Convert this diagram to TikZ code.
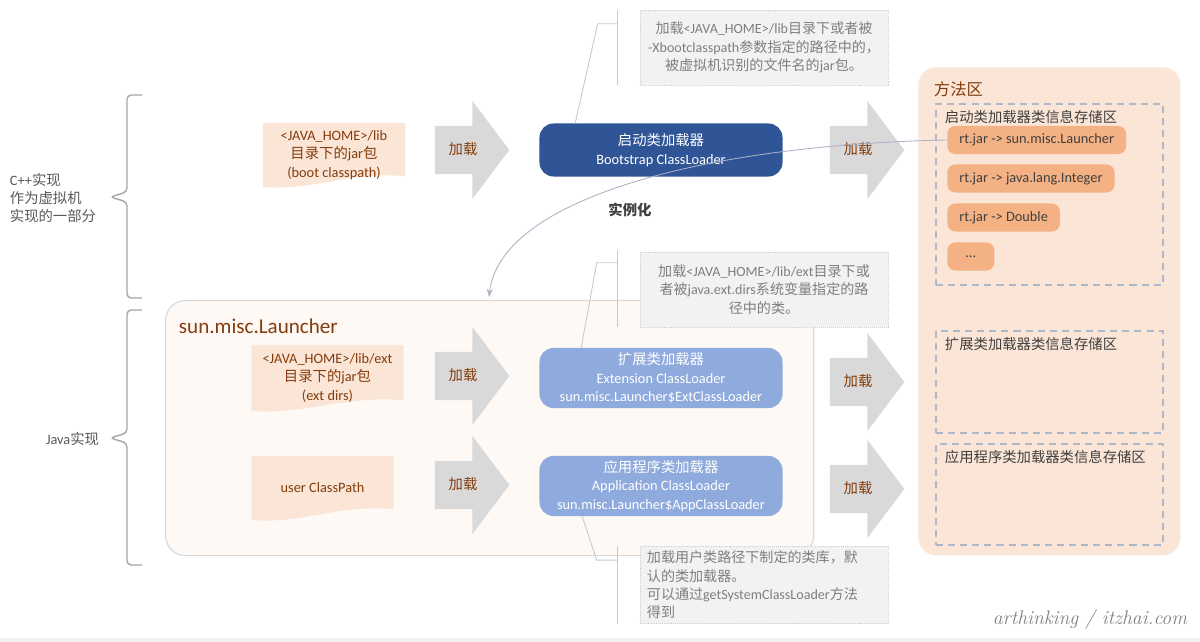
\documentclass[tikz,border=0pt]{standalone}
\usepackage{fontspec}
\usepackage{xcolor}
\usetikzlibrary{shapes.arrows, arrows.meta, positioning}
\setmainfont{Carlito}
\newfontfamily\cjkfont{Noto Sans CJK SC}
\newfontfamily\latinfont{Carlito}
\newfontfamily\markfont{Latin Modern Roman}
\XeTeXinterchartokenstate=1
\newXeTeXintercharclass\cjkclass
\newcommand\setcjkrange[2]{%
  \count255=#1
  \loop
    \XeTeXcharclass\count255=\cjkclass
  \ifnum\count255<#2 \advance\count255 by 1 \repeat}
\setcjkrange{"3000}{"303F}
\setcjkrange{"4E00}{"9FFF}
\setcjkrange{"FF00}{"FFEF}
\XeTeXinterchartoks 0 \cjkclass = {\cjkfont}
\XeTeXinterchartoks 4095 \cjkclass = {\cjkfont}
\XeTeXinterchartoks \cjkclass 0 = {\latinfont}
\XeTeXinterchartoks \cjkclass 4095 = {\latinfont}
\definecolor{loadbrown}{HTML}{843C0C}
\definecolor{bootblue}{HTML}{2F5597}
\definecolor{lightblue}{HTML}{8FAADC}
\definecolor{peach}{HTML}{FBE5D6}
\definecolor{itemorange}{HTML}{F4B183}
\definecolor{notegray}{HTML}{F2F2F2}
\definecolor{notedot}{HTML}{CFCFCF}
\definecolor{notetext}{HTML}{7F7F7F}
\definecolor{arrowgray}{HTML}{D9D9D9}
\definecolor{darktext}{HTML}{404040}
\definecolor{bracetext}{HTML}{595959}
\definecolor{dashblue}{HTML}{ADB9CA}
\definecolor{curveblue}{HTML}{A9B3C4}
\definecolor{linegray}{HTML}{C8C8C8}
\definecolor{bracegray}{HTML}{A6A6A6}
\definecolor{launcherfill}{HTML}{FEF9F4}

\begin{document}
\begin{tikzpicture}[x=0.025cm, y=-0.025cm, >=Stealth,
  every node/.style={font=\fontsize{10.2}{13}\selectfont},
  loader/.style={rectangle, rounded corners=0.35cm, fill=#1, text=white, minimum width=6.075cm, align=center, inner sep=1pt},
  loader/.default=lightblue,
  srcdoc/.style={rectangle, text=loadbrown, align=center, minimum width=3.6cm, minimum height=1.6cm, inner sep=1pt,
    path picture={\fill[peach] (path picture bounding box.north west) -- (path picture bounding box.north east)
      -- ([yshift=0.27cm]path picture bounding box.south east)
      .. controls ([xshift=-1.4cm,yshift=0.4cm]path picture bounding box.south east) and ([xshift=1.3cm,yshift=-0.1cm]path picture bounding box.south west)
      .. (path picture bounding box.south west) -- cycle;}},
  loadarrow/.style={single arrow, fill=arrowgray, text=loadbrown, minimum height=1.86cm, single arrow head extend=0.625cm,
    single arrow tip angle=106, inner ysep=12pt, inner xsep=2pt, text height=8pt, text depth=2pt},
  note/.style={rectangle, fill=notegray, draw=notedot, densely dotted, text=notetext, minimum width=6.2cm, minimum height=1.875cm,
    inner xsep=1pt, align=center, font=\fontsize{10}{13}\selectfont},
  callout/.style={draw=linegray, line width=0.6pt},
  area/.style={rectangle, draw=dashblue, line width=1.4pt, dash pattern=on 5pt off 3.6pt, minimum width=5.675cm, anchor=north west},
  arealabel/.style={anchor=west, text=darktext},
  item/.style={rectangle, rounded corners=0.2cm, fill=itemorange, text=darktext, minimum height=0.7cm, inner xsep=0.3cm, anchor=west},
  bracegroup/.style={draw=bracegray, line width=1pt, rounded corners=3pt}]
  \fill[white] (0,0) rectangle (1200,642);
  \useasboundingbox (0,0) rectangle (1200,642);
  \fill[black!6] (0,638) rectangle (1200,642);

  \draw[bracegroup] (142,95) -- (127,95) -- (127,192) -- (110,197) -- (127,202) -- (127,298) -- (142,298);
  \draw[bracegroup] (142,310) -- (127,310) -- (127,433) -- (110,438) -- (127,443) -- (127,565) -- (142,565);
  \node[anchor=west, align=left, text=bracetext] (cpplabel) at (5,198) {C++实现\\作为虚拟机\\实现的一部分};
  \node[anchor=east, text=bracetext] (javalabel) at (104,439) {Java实现};

  \node[anchor=north west, rectangle, rounded corners=0.5cm, fill=launcherfill, draw=arrowgray, line width=0.8pt,
    minimum width=16.2cm, minimum height=6.375cm] (launcher) at (165,300) {};
  \node[anchor=west, font=\fontsize{15}{18}\selectfont, text=loadbrown] (launchername) at (174,326) {sun.misc.Launcher};

  \node[anchor=north west, rectangle, rounded corners=0.45cm, fill=peach, minimum width=6.55cm, minimum height=12.2cm] (methodarea) at (918,67) {};
  \node[anchor=west, font=\fontsize{11.6}{14}\selectfont, text=loadbrown] (methodname) at (929,89) {方法区};
  \node[area, minimum height=4.525cm] (bootarea) at (935,103) {};
  \node[arealabel] (bootarealabel) at (940,117) {启动类加载器类信息存储区};
  \node[area, minimum height=2.55cm] (extarea) at (935,330) {};
  \node[arealabel] (extarealabel) at (940,344) {扩展类加载器类信息存储区};
  \node[area, minimum height=2.525cm] (apparea) at (935,443) {};
  \node[arealabel] (apparealabel) at (940,457) {应用程序类加载器类信息存储区};
  \node[item] (rtlauncher) at (947,140) {rt.jar -> sun.misc.Launcher};
  \node[item] (rtinteger) at (947,178.5) {rt.jar -> java.lang.Integer};
  \node[item] (rtdouble) at (947,217.5) {rt.jar -> Double};
  \node[item, minimum width=1.175cm] (rtmore) at (947,256.5) {...};

  \node[srcdoc, minimum width=3.55cm] (bootsrc) at (334,155) {<JAVA\_HOME>/lib\\目录下的jar包\\(boot classpath)};
  \node[srcdoc, minimum width=3.8cm, minimum height=1.65cm] (extsrc) at (327.5,378) {<JAVA\_HOME>/lib/ext\\目录下的jar包\\(ext dirs)};
  \node[srcdoc, minimum width=3.55cm] (usersrc) at (322.5,488) {user ClassPath};

  \node[loadarrow] (load1) at (463,150) {加载};
  \node[loadarrow] (load2) at (858,150) {加载};
  \node[loadarrow] (load3) at (463,376) {加载};
  \node[loadarrow] (load4) at (463,485) {加载};
  \node[loadarrow] (load5) at (858,382) {加载};
  \node[loadarrow] (load6) at (858,489) {加载};

  \node[loader=bootblue, minimum height=1.325cm] (boot) at (661,150) {启动类加载器\\Bootstrap ClassLoader};
  \node[loader, minimum height=1.5cm] (ext) at (661,378) {扩展类加载器\\Extension ClassLoader\\sun.misc.Launcher\$ExtClassLoader};
  \node[loader, minimum height=1.5cm] (app) at (661,486) {应用程序类加载器\\Application ClassLoader\\sun.misc.Launcher\$AppClassLoader};

  \node[note] (bootnote) at (764,47.5) {加载<JAVA\_HOME>/lib目录下或者被\\-Xbootclasspath参数指定的路径中的，\\被虚拟机识别的文件名的jar包。};
  \node[note] (extnote) at (764,289.5) {加载<JAVA\_HOME>/lib/ext目录下或\\者被java.ext.dirs系统变量指定的路\\径中的类。};
  \node[note, align=left, text width=5.85cm, inner xsep=0.175cm, minimum height=1.9cm] (appnote) at (764,585) {加载用户类路径下制定的类库，默\\认的类加载器。\\可以通过getSystemClassLoader方法\\得到};

  \draw[callout] ([xshift=0.9cm]boot.north west) -- ([xshift=-1.05cm,yshift=-0.35cm]bootnote.north west) -- ([xshift=-0.55cm,yshift=-0.35cm]bootnote.north west);
  \draw[callout] ([xshift=-0.55cm]bootnote.north west) -- ([xshift=-0.55cm]bootnote.south west);
  \draw[callout] ([xshift=1.05cm]ext.north west) -- ([xshift=-1.075cm,yshift=-0.275cm]extnote.north west) -- ([xshift=-0.55cm,yshift=-0.275cm]extnote.north west);
  \draw[callout] ([xshift=-0.55cm,yshift=0.05cm]extnote.north west) -- ([xshift=-0.55cm]extnote.south west);
  \draw[callout] ([xshift=1.075cm]app.south west) -- ([xshift=-1.075cm,yshift=-0.35cm]appnote.north west) -- ([xshift=-0.55cm,yshift=-0.35cm]appnote.north west);
  \draw[callout] ([xshift=-0.55cm]appnote.north west) -- ([xshift=-0.55cm]appnote.south west);

  \coordinate (inst) at (489,297);
  \draw[->, draw=curveblue, line width=0.6pt] (rtlauncher.west) .. controls (700,145) and (500,200) .. (inst);
  \node[font=\fontsize{10.2}{13}\selectfont\bfseries, text=darktext] (instlabel) at (630,210) {实例化};

  \node[anchor=east, font=\markfont\itshape\fontsize{14}{16}\selectfont, text=gray] (mark) at (1192,620) {arthinking / itzhai.com};
\end{tikzpicture}
\end{document}
